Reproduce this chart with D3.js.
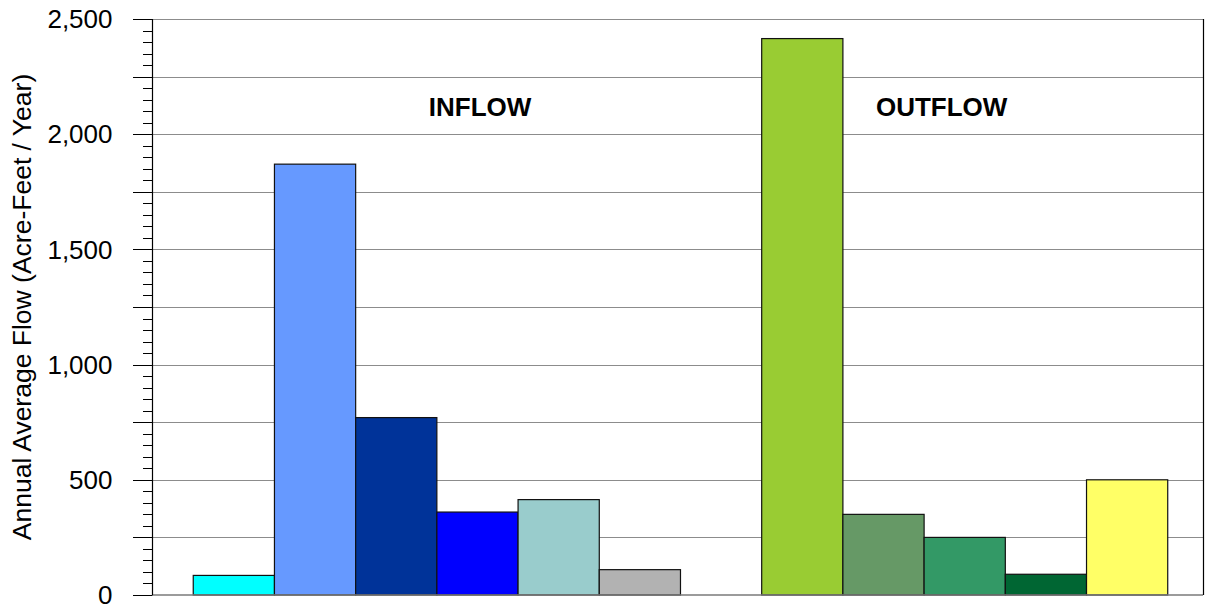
<!DOCTYPE html>
<html>
<head>
<meta charset="utf-8">
<script src="https://cdn.jsdelivr.net/npm/d3@7"></script>
<style>
  html, body { margin: 0; padding: 0; background: #fff; }
  svg { display: block; font-family: "Liberation Sans", Arial, sans-serif; }
</style>
</head>
<body>
<svg id="chart" width="1209" height="605"></svg>
<script>
// Annual average flow components, acre-feet per year
const groups = ["INFLOW", "OUTFLOW"];
const inflowValues = [85, 1870, 770, 360, 414, 110];
const outflowValues = [2415, 350, 250, 90, 500];
const inflowColors = ["#00FFFF", "#6699FF", "#003399", "#0000FF", "#99CCCC", "#B2B2B2"];
const outflowColors = ["#99CC33", "#669966", "#339966", "#006633", "#FFFF66"];
const yTickValues = [0, 500, 1000, 1500, 2000, 2500];
const yAxisTitle = "Annual Average Flow (Acre-Feet / Year)";

// Bars laid out left to right, with an empty slot separating the two groups
const bars = [
  ...inflowValues.map((v, i) => ({ key: "in" + i, value: v, color: inflowColors[i] })),
  ...outflowValues.map((v, i) => ({ key: "out" + i, value: v, color: outflowColors[i] }))
];
const slots = [...inflowValues.map((_, i) => "in" + i), "gap", ...outflowValues.map((_, i) => "out" + i)];

const margin = { left: 152.5, right: 6, top: 19, bottom: 10 };
const W = 1209, H = 605;
const svg = d3.select("#chart");

const x = d3.scaleBand()
  .domain(slots)
  .range([margin.left, W - margin.right])
  .paddingInner(0)
  .paddingOuter(0.468)
  .align(0.536);

const y = d3.scaleLinear()
  .domain([0, 2500])
  .range([H - margin.bottom, margin.top]);

// Horizontal gridlines every 250
svg.append("g")
  .selectAll("line")
  .data(d3.range(250, 2501, 250))
  .join("line")
  .attr("x1", margin.left)
  .attr("x2", W - margin.right)
  .attr("y1", d => Math.round(y(d)) + 0.5)
  .attr("y2", d => Math.round(y(d)) + 0.5)
  .attr("stroke", "#8c8c8c")
  .attr("stroke-width", 1.2);

// Bars
svg.append("g")
  .selectAll("rect")
  .data(bars)
  .join("rect")
  .attr("x", d => x(d.key))
  .attr("width", x.bandwidth())
  .attr("y", d => y(d.value))
  .attr("height", d => y(0) - y(d.value))
  .attr("fill", d => d.color)
  .attr("stroke", "#111")
  .attr("stroke-width", 1.2);

// Baseline
svg.append("line")
  .attr("x1", margin.left).attr("x2", W - margin.right)
  .attr("y1", y(0)).attr("y2", y(0))
  .attr("stroke", "#7a7a7a").attr("stroke-width", 1.5);

// Right frame edge
svg.append("line")
  .attr("x1", W - margin.right + 0.5).attr("x2", W - margin.right + 0.5)
  .attr("y1", y(2500)).attr("y2", y(0))
  .attr("stroke", "#000").attr("stroke-width", 1.2);

// Y axis: major ticks every 250, minor every 50, labels every 500
const yAxis = svg.append("g").attr("transform", `translate(${margin.left},0)`);
yAxis.append("line")
  .attr("x1", 0).attr("x2", 0)
  .attr("y1", y(2500)).attr("y2", y(0))
  .attr("stroke", "#000").attr("stroke-width", 1.2);
yAxis.selectAll("line.minor")
  .data(d3.range(0, 2501, 50).filter(d => d % 250 !== 0))
  .join("line")
  .attr("class", "minor")
  .attr("x1", -9.5).attr("x2", 0)
  .attr("y1", d => Math.round(y(d)) + 0.5)
  .attr("y2", d => Math.round(y(d)) + 0.5)
  .attr("stroke", "#000").attr("stroke-width", 1);
yAxis.selectAll("line.major")
  .data(d3.range(0, 2501, 250))
  .join("line")
  .attr("class", "major")
  .attr("x1", -19.5).attr("x2", 0)
  .attr("y1", d => Math.round(y(d)) + 0.5)
  .attr("y2", d => Math.round(y(d)) + 0.5)
  .attr("stroke", "#000").attr("stroke-width", 1);
yAxis.selectAll("text")
  .data(yTickValues)
  .join("text")
  .attr("x", -40)
  .attr("y", d => y(d))
  .attr("dy", "0.35em")
  .attr("text-anchor", "end")
  .attr("font-size", 26)
  .attr("fill", "#000")
  .text(d3.format(","));

// Axis title
svg.append("text")
  .attr("transform", `translate(31,${(y(0) + y(2500)) / 2}) rotate(-90)`)
  .attr("text-anchor", "middle")
  .attr("font-size", 26.5)
  .attr("fill", "#000")
  .text(yAxisTitle);

// Group labels inside the plot
const labelX = d3.scaleLinear().domain([0, 1]).range([margin.left, W - margin.right]);
const labelPos = [0.3118, 0.7512];
svg.append("g")
  .selectAll("text")
  .data(groups)
  .join("text")
  .attr("x", (d, i) => labelX(labelPos[i]))
  .attr("y", 116)
  .attr("text-anchor", "middle")
  .attr("font-size", 26)
  .attr("font-weight", "bold")
  .attr("fill", "#000")
  .text(d => d);
</script>
</body>
</html>
